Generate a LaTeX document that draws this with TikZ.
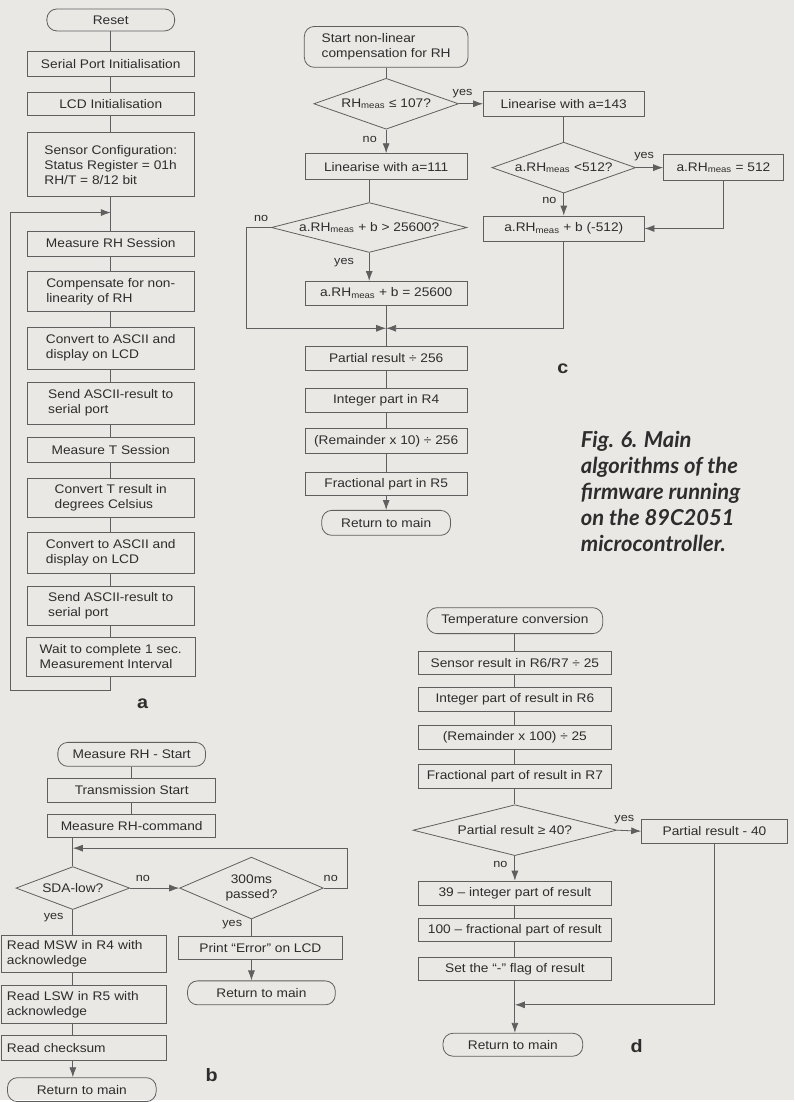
\documentclass[tikz,border=0pt]{standalone}
\usepackage{fontspec}
\setmainfont{Liberation Sans}[FakeStretch=1.1]
\newfontfamily\capfont{Lato}
\usetikzlibrary{shapes.geometric,arrows.meta}
\definecolor{paper}{RGB}{234,232,228}
\definecolor{ink}{RGB}{45,45,45}
\definecolor{wire}{RGB}{95,95,95}
\newcommand{\meas}{\textsubscript{meas}}
\begin{document}
\begin{tikzpicture}[x=1pt, y=-1pt,
    box/.style={draw=wire, line width=0.8pt, text=ink, minimum height=24, inner sep=2pt, font=\fontsize{12.5}{15}\selectfont},
    term/.style={box, rounded corners=10},
    dec/.style={box, diamond, aspect=4, inner sep=0pt},
    lbl/.style={text=ink, inner sep=1pt, font=\fontsize{11.5}{13}\selectfont},
    link/.style={draw=wire, line width=0.8pt},
    arr/.style={link, -{Latex[length=10pt,width=7pt]}},
    tag/.style={text=ink, font=\fontsize{18}{20}\selectfont\bfseries},
    capt/.style={text=ink, align=left, inner sep=0pt, font=\capfont\bfseries\itshape\fontsize{22}{26}\selectfont}]
  \fill[paper] (0,0) rectangle (796,1102);

  % a: main loop
  \node[term, minimum width=128, minimum height=22] (reset) at (111,20) {Reset};
  \node[box, minimum width=168, minimum height=25] (serinit) at (111,64) {Serial Port Initialisation};
  \node[box, minimum width=168, minimum height=23] (lcdinit) at (111,104) {LCD Initialisation};
  \node[box, minimum width=168, minimum height=64, align=left] (sensconf) at (111,165) {Sensor Configuration:\\Status Register = 01h\\RH/T = 8/12 bit};
  \node[box, minimum width=168, minimum height=25] (measrh) at (111,244) {Measure RH Session};
  \node[box, minimum width=168, minimum height=41, align=left] (comp) at (111,292) {Compensate for non-\\linearity of RH};
  \node[box, minimum width=168, minimum height=42, align=left] (ascrh) at (111,349) {Convert to ASCII and\\display on LCD};
  \node[box, minimum width=168, minimum height=42, align=left] (sendrh) at (111,404) {Send ASCII-result to\\serial port};
  \node[box, minimum width=168, minimum height=25] (meast) at (111,451) {Measure T Session};
  \node[box, minimum width=168, minimum height=40, align=left] (convt) at (111,499) {Convert T result in\\degrees Celsius};
  \node[box, minimum width=168, minimum height=41, align=left] (asct) at (111,554) {Convert to ASCII and\\display on LCD};
  \node[box, minimum width=168, minimum height=39, align=left] (sendt) at (111,607) {Send ASCII-result to\\serial port};
  \node[box, minimum width=169, minimum height=39, align=left] (wait) at (111,658) {Wait to complete 1 sec.\\Measurement Interval};
  \coordinate (aloopbot) at (111,692);
  \coordinate (aloopleft) at (10,213);
  \coordinate (aloopjoin) at (111,213);
  \draw[link] (reset) -- (serinit) -- (lcdinit) -- (sensconf) -- (measrh) -- (comp) -- (ascrh)
    -- (sendrh) -- (meast) -- (convt) -- (asct) -- (sendt) -- (wait);
  \draw[arr] (wait) -- (aloopbot) -| (aloopleft) -- (aloopjoin);
  \node[tag] (taga) at (143,705) {a};

  % b: measure RH
  \node[term, minimum width=148] (bstart) at (132,756) {Measure RH - Start};
  \node[box, minimum width=168] (txstart) at (132,792) {Transmission Start};
  \node[box, minimum width=168, minimum height=23] (rhcmd) at (132,828) {Measure RH-command};
  \node[dec, minimum width=114, minimum height=43] (sdalow) at (73,890) {SDA-low?};
  \node[dec, aspect=2.3, minimum width=144, minimum height=62, align=center] (timeout) at (252,890) {300ms\\passed?};
  \node[box, minimum width=166, minimum height=38, text width=154, inner xsep=6pt, align=left] (readmsw) at (84,956) {Read MSW in R4 with\\acknowledge};
  \node[box, minimum width=166, minimum height=38, text width=154, inner xsep=6pt, align=left] (readlsw) at (84,1007) {Read LSW in R5 with\\acknowledge};
  \node[box, minimum width=166, minimum height=25, text width=154, inner xsep=6pt, align=left] (readchk) at (84,1050) {Read checksum};
  \node[term, minimum width=149] (bret) at (82,1092) {Return to main};
  \node[box, minimum width=164, minimum height=23] (printerr) at (261,950) {Print “Error” on LCD};
  \node[term, minimum width=148] (bret2) at (262,995) {Return to main};
  \coordinate (bloopright) at (348,890);
  \coordinate (bloopjoin) at (73,850);
  \draw[link] (bstart) -- (txstart) -- (rhcmd);
  \draw[link] (rhcmd.south -| sdalow.north) -- (sdalow.north);
  \draw[arr] (sdalow.east) -- node[lbl, above=5pt, pos=0.26] {no} (timeout.west);
  \draw[arr] (timeout.east) -- node[lbl, above=5pt, pos=0.3] {no} (bloopright) |- (bloopjoin);
  \draw[link] (sdalow.south) -- node[lbl, left=8pt, pos=0.3] {yes} (sdalow.south |- readmsw.north);
  \draw[link] (readmsw.south -| sdalow.south) -- (readlsw.north -| sdalow.south);
  \draw[link] (readlsw.south -| sdalow.south) -- (readchk.north -| sdalow.south);
  \draw[arr] (readchk.south -| sdalow.south) -- (bret.north -| sdalow.south);
  \draw[link] (timeout.south) -- node[lbl, left=8pt, pos=0.3] {yes} (timeout.south |- printerr.north);
  \draw[arr] (printerr.south -| timeout.south) -- (bret2.north -| timeout.south);
  \node[tag] (tagb) at (212,1077) {b};

  % c: non-linear compensation
  \node[term, minimum width=164, minimum height=41, align=left] (cstart) at (387,47) {Start non-linear\\compensation for RH};
  \node[dec, minimum width=145, minimum height=51] (rhle) at (387,104) {RH\meas{} ≤ 107?};
  \node[box, minimum width=161, minimum height=25] (lin143) at (565,104) {Linearise with a=143};
  \node[box, minimum width=162, minimum height=26] (lin111) at (387,167) {Linearise with a=111};
  \node[dec, minimum width=196, minimum height=50] (overq) at (370,228) {a.RH\meas{} + b > 25600?};
  \node[box, minimum width=162] (clip) at (387,294) {a.RH\meas{} + b = 25600};
  \node[dec, minimum width=144, minimum height=51] (lowq) at (565,168) {a.RH\meas{} <512?};
  \node[box, minimum width=120, minimum height=26] (set512) at (725,168) {a.RH\meas{} = 512};
  \node[box, minimum width=161, minimum height=25] (sub512) at (565,229) {a.RH\meas{} + b (-512)};
  \node[box, minimum width=162] (cdiv) at (387,359) {Partial result ÷ 256};
  \node[box, minimum width=162] (cint) at (387,401) {Integer part in R4};
  \node[box, minimum width=162, minimum height=25] (crem) at (387,442) {(Remainder x 10) ÷ 256};
  \node[box, minimum width=162, minimum height=23] (cfrac) at (387,485) {Fractional part in R5};
  \node[term, minimum width=129, minimum height=25] (cret) at (387,524) {Return to main};
  \coordinate (cnoleft) at (247,228);
  \coordinate (cmerge) at (387,329);
  \draw[link] (cstart) -- (rhle);
  \draw[arr] (rhle.east) -- node[lbl, above=5pt, pos=0.15] {yes} (lin143.west);
  \draw[arr] (rhle.south) -- node[lbl, left=8pt, pos=0.4] {no} (lin111.north);
  \draw[link] (lin111.south -| overq.north) -- (overq.north);
  \draw[arr] (overq.south) -- node[lbl, left=14pt, pos=0.35] {yes} (overq.south |- clip.north);
  \draw[arr] (overq.west) -- node[lbl, above=5pt, pos=0.4] {no} (cnoleft) |- (cmerge);
  \draw[link] (clip) -- (cmerge) -- (cdiv);
  \draw[link] (lin143) -- (lowq);
  \draw[arr] (lowq.east) -- node[lbl, above=5pt, pos=0.3] {yes} (set512.west);
  \draw[arr] (lowq.south) -- node[lbl, left=6pt, pos=0.3] {no} (sub512.north);
  \draw[arr] (set512.south) |- (sub512.east);
  \draw[arr] (sub512.south) |- (cmerge);
  \draw[link] (cdiv) -- (cint) -- (crem) -- (cfrac);
  \draw[arr] (cfrac) -- (cret);
  \node[tag] (tagc) at (564,370) {c};

  \node[capt, anchor=north west] (caption) at (582,432) {Fig. 6. Main\\algorithms of the\\firmware running\\on the 89C2051\\microcontroller.};

  % d: temperature conversion
  \node[term, minimum width=176, minimum height=26] (dstart) at (516,622) {Temperature conversion};
  \node[box, minimum width=193, minimum height=23] (dsens) at (516,664) {Sensor result in R6/R7 ÷ 25};
  \node[box, minimum width=193] (dint) at (516,701) {Integer part of result in R6};
  \node[box, minimum width=193, minimum height=25] (drem) at (516,739) {(Remainder x 100) ÷ 25};
  \node[box, minimum width=193] (dfrac) at (516,778) {Fractional part of result in R7};
  \node[dec, minimum width=204, minimum height=51] (geq) at (516,832) {Partial result ≥ 40?};
  \node[box, minimum width=146] (dsub) at (716,833) {Partial result - 40};
  \node[box, minimum width=194] (dneg) at (516,895) {39 – integer part of result};
  \node[box, minimum width=194, minimum height=23] (dneg2) at (516,932) {100 – fractional part of result};
  \node[box, minimum width=194] (dflag) at (516,971) {Set the “-” flag of result};
  \node[term, minimum width=140, minimum height=23] (dret) at (514,1047) {Return to main};
  \coordinate (dmerge) at (516,1007);
  \draw[link] (dstart) -- (dsens) -- (dint) -- (drem) -- (dfrac) -- (geq);
  \draw[arr] (geq.east) -- node[lbl, above=5pt, pos=0.3] {yes} (dsub.west);
  \draw[arr] (geq.south) -- node[lbl, left=6pt, pos=0.35] {no} (dneg.north);
  \draw[link] (dneg) -- (dneg2) -- (dflag) -- (dmerge);
  \draw[arr] (dsub.south) |- (dmerge);
  \draw[arr] (dmerge) -- (dret.north -| dmerge);
  \node[tag] (tagd) at (638,1048) {d};
\end{tikzpicture}
\end{document}
